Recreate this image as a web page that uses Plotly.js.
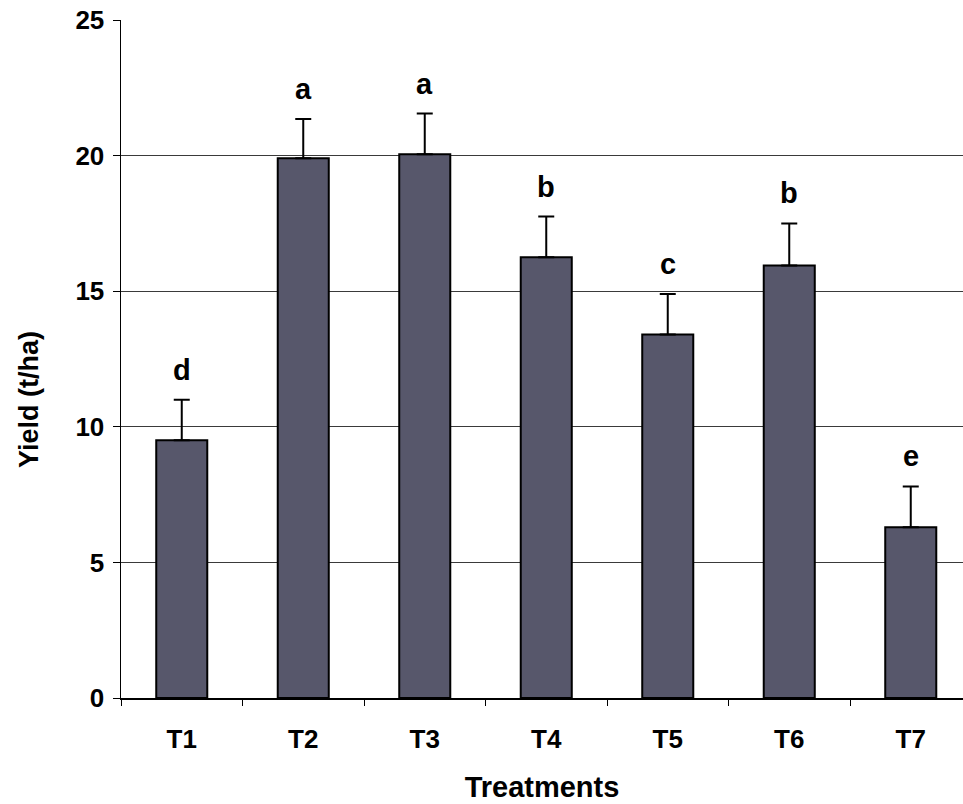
<!DOCTYPE html>
<html>
<head>
<meta charset="utf-8">
<script src="https://cdn.plot.ly/plotly-3.0.1.min.js"></script>
<style>html,body{margin:0;padding:0;background:#fff;}#chart{width:963px;height:804px;}</style>
</head>
<body>
<div id="chart"></div>
<script>
const treatments = ["T1", "T2", "T3", "T4", "T5", "T6", "T7"];
const yieldValues = [9.5, 19.9, 20.05, 16.25, 13.4, 15.95, 6.3];
const errorValues = [1.5, 1.45, 1.5, 1.5, 1.5, 1.55, 1.5];
const groupLetters = ["d", "a", "a", "b", "c", "b", "e"];
const yTicks = [0, 5, 10, 15, 20, 25];

const FONT = "Liberation Sans, Arial, sans-serif";

const trace = {
  type: "bar",
  x: treatments,
  y: yieldValues,
  width: 0.42,
  marker: { color: "#57576b", line: { color: "#000", width: 2 } },
  error_y: { type: "data", array: errorValues, visible: true, color: "#000", thickness: 2, width: 8, symmetric: false, arrayminus: treatments.map(() => 0) },
  hoverinfo: "x+y"
};

const annotations = treatments.map((t, i) => ({
  x: t,
  y: yieldValues[i] + errorValues[i],
  xref: "x",
  yref: "y",
  text: "<b>" + groupLetters[i] + "</b>",
  showarrow: false,
  yanchor: "bottom",
  yshift: 12,
  font: { family: FONT, size: 29, color: "#000" }
}));

annotations.push({
  x: -0.11, y: 0.44, xref: "paper", yref: "paper",
  text: "<b>Yield (t/ha)</b>", textangle: -90, showarrow: false,
  xanchor: "center", yanchor: "middle",
  font: { family: FONT, size: 27, color: "#000" }
});

const layout = {
  width: 963,
  height: 804,
  margin: { l: 121, r: 0, t: 20, b: 106 },
  paper_bgcolor: "#fff",
  plot_bgcolor: "#fff",
  showlegend: false,
  xaxis: {
    type: "category",
    range: [-0.5, 6.43],
    showline: true,
    linecolor: "#000",
    linewidth: 1.5,
    ticks: "outside",
    tickson: "boundaries",
    ticklen: 6,
    tickcolor: "#000",
    ticklabelstandoff: 17,
    tickfont: { family: FONT, size: 26, color: "#000", weight: "bold" },
    showgrid: false,
    title: { text: "<b>Treatments</b>", font: { family: FONT, size: 29, color: "#000" }, standoff: 24 }
  },
  yaxis: {
    range: [0, 25],
    tickvals: yTicks,
    showline: true,
    linecolor: "#000",
    linewidth: 1.5,
    ticks: "outside",
    ticklen: 7,
    tickcolor: "#000",
    ticklabelstandoff: 3,
    tickfont: { family: FONT, size: 26, color: "#000", weight: "bold" },
    showgrid: true,
    gridcolor: "#3a3a3a",
    gridwidth: 1.2,
    zeroline: false
  },
  annotations: annotations,
  bargap: 0.58
};

Plotly.newPlot("chart", [trace], layout, { displayModeBar: false, staticPlot: true });
</script>
</body>
</html>
